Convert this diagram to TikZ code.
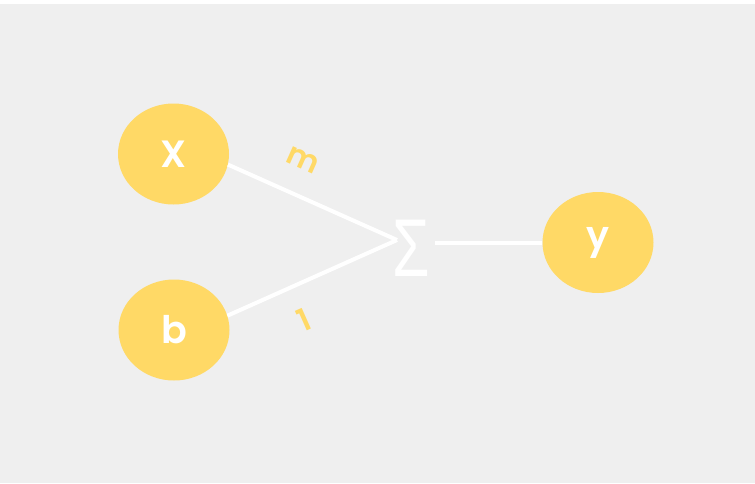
\documentclass[tikz,border=0pt]{standalone}
\usepackage{fontspec}
\setmainfont{Poppins}[BoldFont=* SemiBold]
\newfontfamily\sigfont{Liberation Sans}
\usetikzlibrary{shapes.geometric}
\definecolor{bg}{HTML}{EFEFEF}
\definecolor{yel}{HTML}{FFD966}
\tikzset{
  neuron/.style={ellipse, fill=yel, draw=none, minimum width=111pt, minimum height=101pt, inner sep=0pt,
    text=white, font=\fontsize{38}{44}\selectfont\bfseries},
  wire/.style={white, line width=4pt},
  weight/.style={text=yel, font=\fontsize{31}{34}\selectfont\bfseries, inner sep=0pt}
}
\begin{document}
\begin{tikzpicture}[x=1pt,y=-1pt]
\useasboundingbox (0,0) rectangle (755,483);
\fill[white] (0,0) rectangle (755,483);
\fill[bg] (0,4) rectangle (755,483);
\node[neuron] (X) at (173.5,154) {X};
\node[neuron] (b) at (174,330) {b};
\node[neuron] (y) at (598,242.5) {y};
\node[text=white, inner sep=0pt, font=\sigfont\fontsize{82}{90}\selectfont] (sig) at (411.5,248) {\scalebox{0.74}[1]{Σ}};
\coordinate (sigin) at (397,240);
\coordinate (sigout) at (435,242.5);
\draw[wire] (X.-11) -- (sigin);
\draw[wire] (b.15) -- (sigin);
\draw[wire] (sigout) -- (y.west);
\node[weight, rotate=-24] (wm) at (303,160) {m};
\node[weight, rotate=24] (w1) at (304,320) {1};
\end{tikzpicture}
\end{document}
